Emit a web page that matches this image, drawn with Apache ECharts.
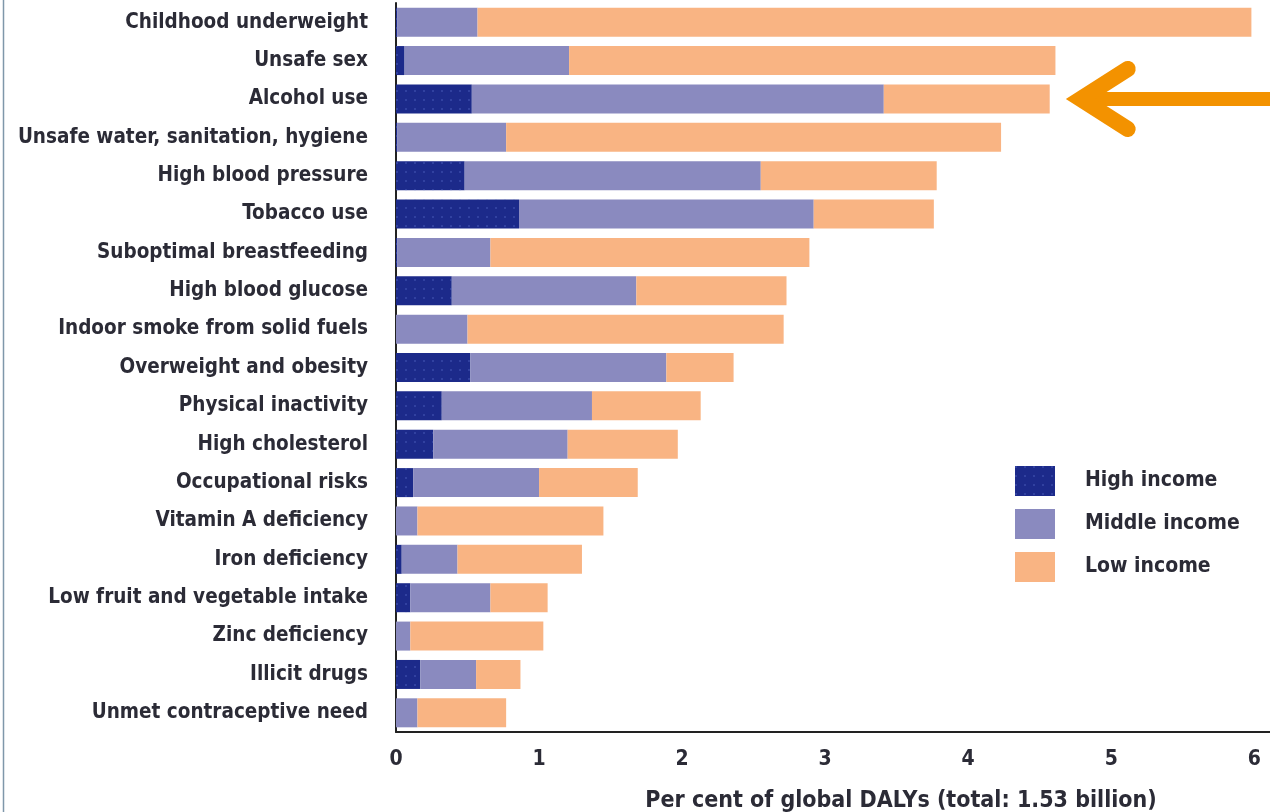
<!DOCTYPE html>
<html>
<head>
<meta charset="utf-8">
<script src="https://cdn.jsdelivr.net/npm/echarts@6/dist/echarts.min.js"></script>
<style>
html,body{margin:0;padding:0;background:#fff;}
#c{width:1270px;height:812px;}
</style>
</head>
<body>
<div id="c"></div>
<script>
var categories = ["Childhood underweight","Unsafe sex","Alcohol use","Unsafe water, sanitation, hygiene","High blood pressure","Tobacco use","Suboptimal breastfeeding","High blood glucose","Indoor smoke from solid fuels","Overweight and obesity","Physical inactivity","High cholesterol","Occupational risks","Vitamin A deficiency","Iron deficiency","Low fruit and vegetable intake","Zinc deficiency","Illicit drugs","Unmet contraceptive need"];
var highIncome   = [0.01,0.06,0.53,0.01,0.48,0.86,0.01,0.39,0.00,0.52,0.32,0.26,0.12,0.00,0.04,0.10,0.00,0.17,0.00];
var middleIncome = [0.56,1.15,2.88,0.76,2.07,2.06,0.65,1.29,0.50,1.37,1.05,0.94,0.88,0.15,0.39,0.56,0.10,0.39,0.15];
var lowIncome    = [5.41,3.40,1.16,3.46,1.23,0.84,2.23,1.05,2.21,0.47,0.76,0.77,0.69,1.30,0.87,0.40,0.93,0.31,0.62];
var xTicks = [0,1,2,3,4,5,6];
var highlighted = "Alcohol use";

var FONT = "'DejaVu Sans Condensed','Liberation Sans Narrow',sans-serif";
var TXT = '#2b2b36';
var chart = echarts.init(document.getElementById('c'), null, {renderer:'canvas'});
var highDecal = {symbol:'rect', symbolSize:1, color:'rgba(90,110,200,0.35)', dashArrayX:[[2,7]], dashArrayY:[2,7], rotation:0};

var option = {
  animation:false,
  backgroundColor:'#fff',
  grid:{left:396, right:0, top:3, bottom:80, containLabel:false, outerBoundsMode:'none'},
  legend:{
    orient:'vertical', left:1015, top:466, padding:0, itemWidth:40, itemHeight:30, itemGap:13,
    icon:'rect',
    textStyle:{fontFamily:FONT, fontSize:21, fontWeight:'bold', color:TXT, padding:[0,0,0,25]},
    data:['High income','Middle income','Low income']
  },
  xAxis:{
    type:'value', min:xTicks[0], max:6.11, interval:1,
    axisLine:{show:true, lineStyle:{color:'#222', width:2}},
    axisTick:{show:false},
    splitLine:{show:false},
    axisLabel:{fontFamily:FONT, fontSize:21, fontWeight:'bold', color:TXT, margin:17,
      formatter:function(v){return xTicks.indexOf(v)>=0 ? String(v) : '';}},
    name:'Per cent of global DALYs (total: 1.53 billion)',
    nameLocation:'middle', nameGap:58,
    nameTextStyle:{fontFamily:FONT, fontSize:23, fontWeight:'bold', color:TXT, padding:[0,0,0,136]}
  },
  yAxis:{
    type:'category', data:categories, inverse:true,
    axisLine:{show:true, onZero:false, lineStyle:{color:'#222', width:2}},
    axisTick:{show:false},
    axisLabel:{fontFamily:FONT, fontSize:20.5, fontWeight:'bold', color:TXT, margin:28}
  },
  series:[
    {name:'High income', type:'bar', stack:'t', data:highIncome, barWidth:29,
      itemStyle:{color:'#1c2a8a', decal:highDecal}},
    {name:'Middle income', type:'bar', stack:'t', data:middleIncome, barWidth:29,
      itemStyle:{color:'#8a8abf'}},
    {name:'Low income', type:'bar', stack:'t', data:lowIncome, barWidth:29,
      itemStyle:{color:'#f9b483'}}
  ]
};
chart.setOption(option);

var idx = categories.indexOf(highlighted);
var total = highIncome[idx] + middleIncome[idx] + lowIncome[idx];
var p = chart.convertToPixel({gridIndex:0}, [total, categories[idx]]);
var V = p[0] + 31, tipY = p[1];
chart.setOption({
  graphic:[
    {type:'line', shape:{x1:3.5, y1:0, x2:3.5, y2:812}, style:{stroke:'#7f97aa', lineWidth:1.5}, silent:true},
    {type:'line', shape:{x1:V, y1:tipY, x2:1275, y2:tipY}, style:{stroke:'#f39200', lineWidth:14}, silent:true},
    {type:'polyline', shape:{points:[[V+47, tipY-30],[V, tipY],[V+47, tipY+30]]},
      style:{stroke:'#f39200', lineWidth:16, lineCap:'round', lineJoin:'miter', miterLimit:10, fill:null}, silent:true}
  ]
});
</script>
</body>
</html>
